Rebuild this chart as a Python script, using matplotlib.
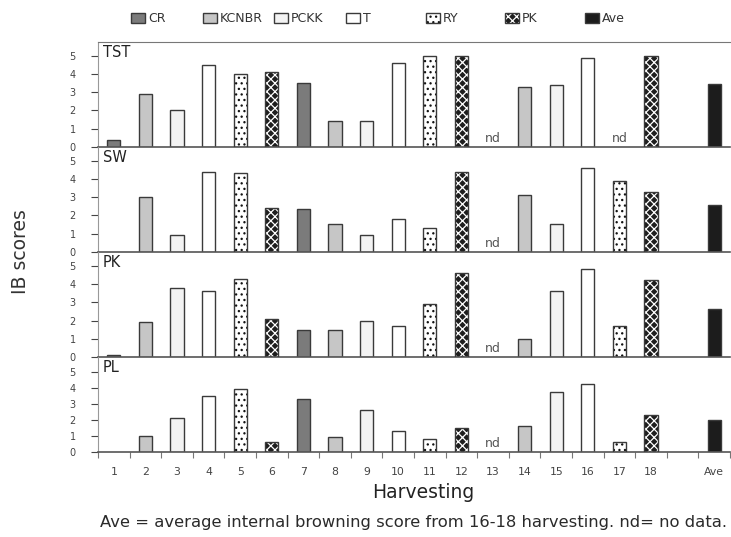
import numpy as np
import matplotlib.pyplot as plt
from matplotlib.patches import Rectangle

plt.rcParams['font.family'] = ['DejaVu Sans']
plt.rcParams['hatch.linewidth'] = 0.9

# --- data ---
harvests = [str(i) for i in range(1, 19)] + ['', 'Ave']
cultivar = ['CR', 'KCNBR', 'PCKK', 'T', 'RY', 'PK',
            'CR', 'KCNBR', 'PCKK', 'T', 'RY', 'PK',
            'CR', 'KCNBR', 'PCKK', 'T', 'RY', 'PK', None, 'Ave']
panels = ['TST', 'SW', 'PK', 'PL']

# None = no data (nd) / no bar
tst = [0.35, 2.9, 2.0, 4.5, 4.0, 4.1, 3.5, 1.4, 1.4, 4.6, 5.0, 5.0,
       None, 3.3, 3.4, 4.9, None, 5.0, None, 3.45]
sw = [0, 3.0, 0.9, 4.4, 4.3, 2.4, 2.35, 1.5, 0.9, 1.8, 1.3, 4.4,
      None, 3.1, 1.5, 4.6, 3.9, 3.3, None, 2.55]
pk = [0.1, 1.9, 3.8, 3.6, 4.3, 2.1, 1.5, 1.5, 2.0, 1.7, 2.9, 4.6,
      None, 1.0, 3.6, 4.8, 1.7, 4.2, None, 2.65]
pl = [0, 1.0, 2.1, 3.5, 3.9, 0.6, 3.3, 0.9, 2.6, 1.3, 0.8, 1.5,
      None, 1.6, 3.7, 4.2, 0.6, 2.3, None, 2.0]
scores = {'TST': tst, 'SW': sw, 'PK': pk, 'PL': pl}
nd_by_panel = {'TST': [13, 17], 'SW': [13], 'PK': [13], 'PL': [13]}

# --- styles ---
styles = {
    'CR':    dict(face='#7b7b7b', hatch=None, hatch_col=None),
    'KCNBR': dict(face='#c6c6c6', hatch=None, hatch_col=None),
    'PCKK':  dict(face='#f3f3f3', hatch=None, hatch_col=None),
    'T':     dict(face='white', hatch=None, hatch_col=None),
    'RY':    dict(face='white', hatch='...', hatch_col='#111111'),
    'PK':    dict(face='#1e1e1e', hatch='xxxx', hatch_col='white'),
    'Ave':   dict(face='#1c1c1c', hatch=None, hatch_col=None),
}
edge = '#3a3a3a'
grey = '#444444'

W, H = 731, 537
fig = plt.figure(figsize=(W / 100, H / 100), dpi=100)

# panel pixel extents (top, bottom)
extents = [(41.7, 146.7), (146.7, 251.7), (251.7, 357.2), (357.2, 451.7)]
left_px, right_px = 98, 730
x = np.arange(1, len(harvests) + 1)


def draw_bar(ax, xi, v, st):
    if st['hatch']:
        ax.bar(xi, v, width=0.42, facecolor=st['face'], hatch=st['hatch'],
               edgecolor=st['hatch_col'], linewidth=0, zorder=2)
        ax.bar(xi, v, width=0.42, facecolor='none', edgecolor=edge, linewidth=1.0, zorder=3)
    else:
        ax.bar(xi, v, width=0.42, facecolor=st['face'], edgecolor=edge, linewidth=1.0, zorder=2)


axes = []
for i, (name, (top, bot)) in enumerate(zip(panels, extents)):
    ax = fig.add_axes([left_px / W, 1 - bot / H, (right_px - left_px) / W, (bot - top) / H])
    vals = scores[name]
    for xi, v, c in zip(x, vals, cultivar):
        if v is None or c is None or v == 0:
            continue
        draw_bar(ax, xi, v, styles[c])
    for n in nd_by_panel[name]:
        ax.text(n, 0.12, 'nd', ha='center', va='bottom', fontsize=9, color='#555555')
    ax.set_xlim(0.5, len(harvests) + 0.5)
    ylim = 5.77 if i < 3 else 5.9
    ax.set_ylim(0, ylim)
    ax.set_yticks(range(0, 6))
    ax.tick_params(axis='y', labelsize=7, colors=grey, length=5, width=0.8, pad=11)
    ax.text(0.008, 0.97, name, transform=ax.transAxes, ha='left', va='top',
            fontsize=10.5, color='#222222')
    ax.spines['right'].set_visible(False)
    if i > 0:
        ax.spines['top'].set_visible(False)
    ax.spines['top'].set_color('#777777')
    ax.spines['left'].set_color('#999999')
    ax.spines['bottom'].set_color('#555555')
    ax.spines['bottom'].set_linewidth(1.2)
    ax.patch.set_alpha(0)
    if i < 3:
        ax.set_xticks([])
    axes.append(ax)

bottom_ax = axes[-1]
bottom_ax.set_xticks(x)
bottom_ax.set_xticklabels(harvests)
bottom_ax.set_xticks(np.arange(0.5, len(harvests) + 1), minor=True)
bottom_ax.tick_params(axis='x', which='major', length=0, labelsize=7.8, colors=grey, pad=11)
bottom_ax.tick_params(axis='x', which='minor', length=4, width=0.8, color='#777777')

fig.text(20 / W, 1 - 252 / H, 'IB scores', rotation=90, ha='center', va='center',
         fontsize=13.5, color='#333333')
fig.text(423 / W, 1 - 493 / H, 'Harvesting', ha='center', va='center',
         fontsize=13.5, color='#222222')
fig.text(100 / W, 1 - 522 / H,
         'Ave = average internal browning score from 16-18 harvesting. nd= no data.',
         ha='left', va='center', fontsize=11.8, color='#2a2a2a')

# legend: swatch left edges in pixels
legend_x = [131, 203, 274, 346, 426, 505, 585]
sw_w, sw_h, leg_y = 14, 10, 18
for lx, (name, st) in zip(legend_x, styles.items()):
    rect = [lx / W, 1 - (leg_y + sw_h / 2) / H]
    if st['hatch']:
        fig.patches.append(Rectangle(rect, sw_w / W, sw_h / H, transform=fig.transFigure,
                                     facecolor=st['face'], hatch=st['hatch'],
                                     edgecolor=st['hatch_col'], linewidth=0))
    fig.patches.append(Rectangle(rect, sw_w / W, sw_h / H, transform=fig.transFigure,
                                 facecolor='none' if st['hatch'] else st['face'],
                                 edgecolor=edge, linewidth=1.0))
    fig.text((lx + sw_w + 3) / W, 1 - leg_y / H, name, ha='left', va='center',
             fontsize=9, color='#333333')

fig.savefig('out.png', dpi=100)
